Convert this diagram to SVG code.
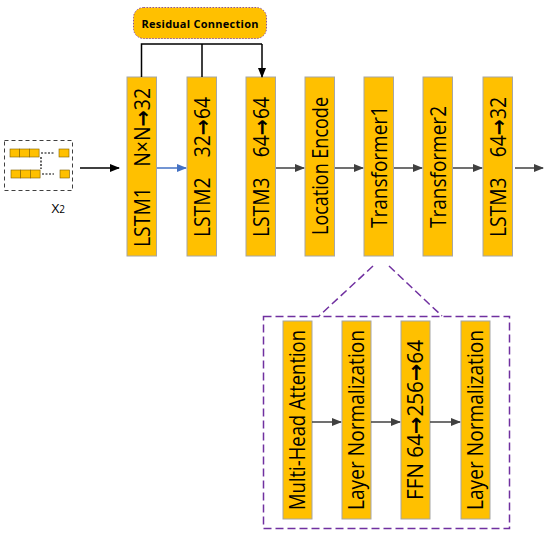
<svg xmlns="http://www.w3.org/2000/svg" width="550" height="538" viewBox="0 0 550 538">
<style>
.box{fill:#FFC000;stroke:#A6A6A6;stroke-width:1}
.vt{font-family:"Open Sans","Liberation Sans",sans-serif;font-size:21px;fill:#000;text-anchor:middle}
.ar{font-family:"DejaVu Sans",sans-serif;font-weight:bold}
.flow{stroke:#404040;stroke-width:1.5;fill:none;marker-end:url(#ah)}
.res{stroke:#000;stroke-width:1.5;fill:none}
.cell{fill:#FFC000;stroke:#7F6000;stroke-width:0.6}
.dot{stroke:#000;stroke-width:1.2;stroke-dasharray:2 1.5;fill:none}
</style>
<defs>
<marker id="ah" markerWidth="10" markerHeight="8" refX="9" refY="4" orient="auto" markerUnits="userSpaceOnUse">
<path d="M0,0 L10,4 L0,8 z" fill="#404040"/>
</marker>
<marker id="ahk" markerWidth="10" markerHeight="8" refX="9" refY="4" orient="auto" markerUnits="userSpaceOnUse">
<path d="M0,0 L10,4 L0,8 z" fill="#000"/>
</marker>
<marker id="ahb" markerWidth="10" markerHeight="8" refX="9" refY="4" orient="auto" markerUnits="userSpaceOnUse">
<path d="M0,0 L10,4 L0,8 z" fill="#4472C4"/>
</marker>
</defs>

<g id="input">
<rect x="4.5" y="140.5" width="68" height="50" fill="none" stroke="#404040" stroke-width="1" stroke-dasharray="4 3"/>
<rect class="cell" x="10" y="149" width="9.7" height="8"/>
<rect class="cell" x="19.7" y="149" width="9.7" height="8"/>
<rect class="cell" x="29.4" y="149" width="9.7" height="8"/>
<rect class="cell" x="59" y="149" width="10" height="8"/>
<rect class="cell" x="11" y="170" width="9.7" height="8"/>
<rect class="cell" x="20.7" y="170" width="9.7" height="8"/>
<rect class="cell" x="30.4" y="170" width="9.7" height="8"/>
<rect class="cell" x="60" y="170" width="9.5" height="8"/>
<path class="dot" d="M41,153 H54 M42,174 H54 M41,157 V169"/>
<text x="51.5" y="213" font-family="Open Sans, Liberation Sans, sans-serif" font-size="13.5" fill="#000">X<tspan font-size="10">2</tspan></text>
</g>

<g id="residual">
<rect x="133.5" y="7.5" width="133" height="31" rx="10" fill="#FFC000" stroke="#7030A0" stroke-width="0.8" stroke-dasharray="1.5 1.5"/>
<text x="200" y="28" font-family="Open Sans, Liberation Sans, sans-serif" font-size="11" font-weight="bold" text-anchor="middle" fill="#000" textLength="117">Residual Connection</text>
</g>

<g id="lstm1"><rect class="box" x="127" y="77" width="29.5" height="179"/>
<text class="vt" transform="translate(149.5,167.5) rotate(-90)" textLength="159" lengthAdjust="spacingAndGlyphs">LSTM1<tspan dx="22">N×N</tspan><tspan class="ar">→</tspan>32</text></g>
<g id="lstm2"><rect class="box" x="187" y="77" width="29.5" height="179"/>
<text class="vt" transform="translate(209.5,167) rotate(-90)" textLength="140" lengthAdjust="spacingAndGlyphs">LSTM2<tspan dx="22">32</tspan><tspan class="ar">→</tspan>64</text></g>
<g id="lstm3"><rect class="box" x="246" y="77" width="29.5" height="179"/>
<text class="vt" transform="translate(268.5,167) rotate(-90)" textLength="140" lengthAdjust="spacingAndGlyphs">LSTM3<tspan dx="22">64</tspan><tspan class="ar">→</tspan>64</text></g>
<g id="location"><rect class="box" x="305" y="77" width="29.5" height="179"/>
<text class="vt" transform="translate(327.5,166) rotate(-90)" textLength="138" lengthAdjust="spacingAndGlyphs">Location Encode</text></g>
<g id="transformer1"><rect class="box" x="364" y="77" width="29.5" height="179"/>
<text class="vt" transform="translate(386.5,167) rotate(-90)" textLength="122" lengthAdjust="spacingAndGlyphs">Transformer1</text></g>
<g id="transformer2"><rect class="box" x="423" y="77" width="29.5" height="179"/>
<text class="vt" transform="translate(445.5,167) rotate(-90)" textLength="122" lengthAdjust="spacingAndGlyphs">Transformer2</text></g>
<g id="lstm3b"><rect class="box" x="483" y="77" width="29.5" height="179"/>
<text class="vt" transform="translate(505.5,167) rotate(-90)" textLength="140" lengthAdjust="spacingAndGlyphs">LSTM3<tspan dx="22">64</tspan><tspan class="ar">→</tspan>32</text></g>

<g id="detail">
<rect x="263.5" y="316.5" width="246" height="212" fill="none" stroke="#7030A0" stroke-width="1.5" stroke-dasharray="8 4"/>
</g>
<g id="mha"><rect class="box" x="283" y="321" width="29" height="198"/>
<text class="vt" transform="translate(305,420) rotate(-90)" textLength="180" lengthAdjust="spacingAndGlyphs">Multi-Head Attention</text></g>
<g id="ln1"><rect class="box" x="342" y="321" width="29" height="198"/>
<text class="vt" transform="translate(364,420) rotate(-90)" textLength="180" lengthAdjust="spacingAndGlyphs">Layer Normalization</text></g>
<g id="ffn"><rect class="box" x="401" y="321" width="29" height="198"/>
<text class="vt" transform="translate(423,420) rotate(-90)" textLength="160" lengthAdjust="spacingAndGlyphs">FFN 64<tspan class="ar">→</tspan>256<tspan class="ar">→</tspan>64</text></g>
<g id="ln2"><rect class="box" x="461" y="321" width="29" height="198"/>
<text class="vt" transform="translate(483,420) rotate(-90)" textLength="180" lengthAdjust="spacingAndGlyphs">Layer Normalization</text></g>

<g id="connectors">
<path class="res" d="M141.5,77 V44 H262 M202,44 V77"/>
<path class="res" d="M262,44 V77" marker-end="url(#ahk)"/>
<path d="M80,168 H119" stroke="#000" stroke-width="1.5" marker-end="url(#ahk)"/>
<path d="M157,168 H186" stroke="#4472C4" stroke-width="1.5" marker-end="url(#ahb)"/>
<path class="flow" d="M276,168 H304"/>
<path class="flow" d="M335,168 H363"/>
<path class="flow" d="M394,168 H422"/>
<path class="flow" d="M453,168 H482"/>
<path class="flow" d="M515,168 H543"/>
<path class="flow" d="M312,422 H341"/>
<path class="flow" d="M371,422 H400"/>
<path class="flow" d="M430,422 H460"/>
<path d="M373,266 L319,316 M389,266 L442,316" stroke="#7030A0" stroke-width="1.5" stroke-dasharray="8 4" fill="none"/>
</g>
</svg>
